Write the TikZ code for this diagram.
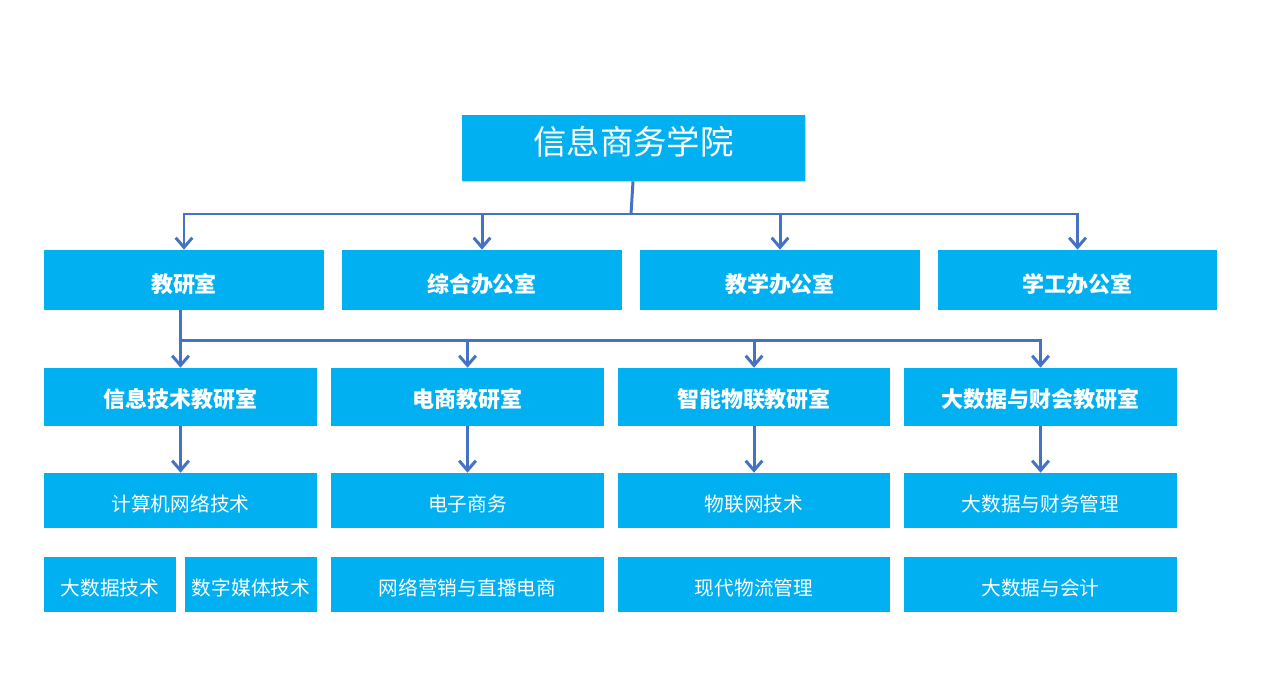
\documentclass[tikz,border=0pt]{standalone}
\usepackage{fontspec}
\setmainfont{Noto Sans CJK SC}
\usepackage{xcolor}
\usetikzlibrary{arrows.meta, positioning, shadows}
\definecolor{boxblue}{HTML}{00B0F0}
\definecolor{linkblue}{HTML}{4472C4}
\tikzset{
    unit/.style={
        rectangle,
        fill=boxblue,
        text=white,
        inner sep=0pt,
    },
    college/.style={
        unit,
        minimum width=6.86cm,
        minimum height=1.32cm,
        font=\fontsize{19}{22}\selectfont,
        text height=0.9em,
        text depth=0.16em,
        drop shadow={shadow xshift=0.6pt, shadow yshift=-0.8pt, opacity=0.35},
    },
    office/.style={
        unit,
        minimum width=5.6cm,
        minimum height=1.2cm,
        font=\fontsize{12.5}{15}\selectfont\bfseries,
        text height=1.38em,
        text depth=0pt,
    },
    section/.style={
        unit,
        minimum width=5.46cm,
        minimum height=1.16cm,
        font=\fontsize{12.5}{15}\selectfont\bfseries,
        text height=1.25em,
        text depth=0pt,
    },
    major/.style={
        unit,
        minimum width=5.46cm,
        minimum height=1.1cm,
        font=\fontsize{11.2}{14}\selectfont,
        text height=1.26em,
        text depth=0pt,
    },
    halfmajor/.style={
        major,
        minimum width=2.64cm,
    },
    link/.style={
        draw=linkblue,
        line width=1.7pt,
    },
    arrowlink/.style={
        link,
        -{Straight Barb[length=5.5pt,width=9.5pt]},
    },
}

\begin{document}
\begin{tikzpicture}[x=0.02cm, y=-0.02cm]
      \useasboundingbox (0,0) rectangle (1266,673);

      % college
      \node[college] (xxsw) at (633.5,148) {信息商务学院};

      % offices
      \node[office] (jys) at (184,280) {教研室};
      \node[office] (zhbgs) at (482,280) {综合办公室};
      \node[office] (jxbgs) at (780,280) {教学办公室};
      \node[office] (xgbgs) at (1077.5,280) {学工办公室};

      % teaching sections
      \node[section] (xxjs) at (180.5,397) {信息技术教研室};
      \node[section] (ds) at (467.5,397) {电商教研室};
      \node[section] (znwl) at (754,397) {智能物联教研室};
      \node[section] (dsj) at (1040.5,397) {大数据与财会教研室};

      % majors
      \node[major] (jsjwl) at (180.5,500.5) {计算机网络技术};
      \node[major] (dzsw) at (467.5,500.5) {电子商务};
      \node[major] (wlw) at (754,500.5) {物联网技术};
      \node[major] (dsjcw) at (1040.5,500.5) {大数据与财务管理};

      \node[halfmajor] (dsjjs) at (110,584.5) {大数据技术};
      \node[halfmajor] (szmt) at (251,584.5) {数字媒体技术};
      \node[major] (wlyx) at (467.5,584.5) {网络营销与直播电商};
      \node[major] (xdwl) at (754,584.5) {现代物流管理};
      \node[major] (dsjkj) at (1040.5,584.5) {大数据与会计};

      % college to offices
      \coordinate (j1) at (631,214);
      \draw[link] (xxsw.south -| 633,0) -- (j1);
      \draw[arrowlink] (j1) -| (jys.north);
      \draw[arrowlink] (j1) -| (zhbgs.north);
      \draw[arrowlink] (j1) -| (jxbgs.north);
      \draw[arrowlink] (j1) -| (xgbgs.north);

      % office to sections
      \coordinate (j2) at (180.5,340);
      \draw[link] (jys.south -| j2) -- (j2);
      \draw[arrowlink] (j2) -- (xxjs.north);
      \draw[arrowlink] (j2) -| (ds.north);
      \draw[arrowlink] (j2) -| (znwl.north);
      \draw[arrowlink] (j2) -| (dsj.north);

      % sections to majors
      \draw[arrowlink] (xxjs) -- (jsjwl);
      \draw[arrowlink] (ds) -- (dzsw);
      \draw[arrowlink] (znwl) -- (wlw);
      \draw[arrowlink] (dsj) -- (dsjcw);
\end{tikzpicture}
\end{document}
